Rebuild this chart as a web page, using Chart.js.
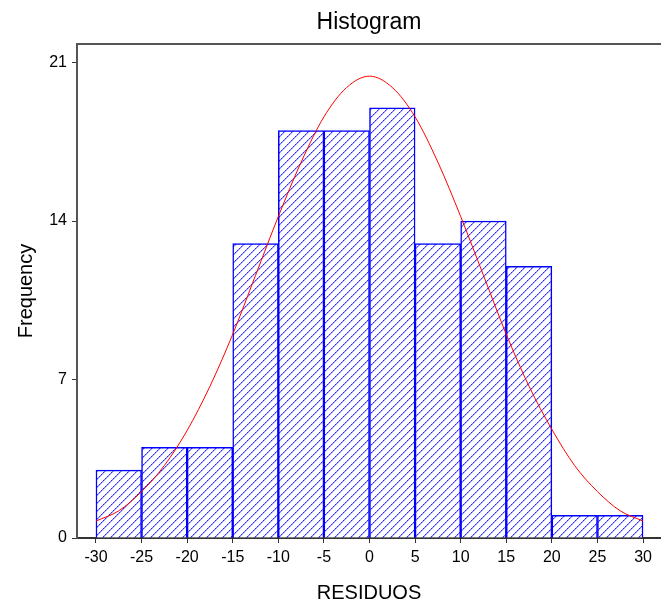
<!DOCTYPE html>
<html>
<head>
<meta charset="utf-8">
<script src="https://cdn.jsdelivr.net/npm/chart.js@4/dist/chart.umd.min.js"></script>
<style>
  html, body { margin: 0; padding: 0; background: #ffffff; }
  #c { display: block; }
</style>
</head>
<body>
<canvas id="c" width="661" height="607"></canvas>
<script>
// ---- data ----
const binStarts = [-30, -25, -20, -15, -10, -5, 0, 5, 10, 15, 20, 25];
const binWidth = 5;
const counts = [3, 4, 4, 13, 18, 18, 19, 13, 14, 12, 1, 1];

const curveX = [-30, -27.5, -25, -22.5, -20, -17.5, -15, -12.5, -10, -7.5, -5, -2.5, 0, 2.5, 5, 7.5, 10, 12.5, 15, 17.5, 20, 22.5, 25, 27.5, 30];
const curveY = [0.75, 1.2, 2.05, 3.2, 4.75, 6.7, 9.0, 11.6, 14.2, 16.6, 18.6, 19.9, 20.4, 19.9, 18.6, 16.6, 14.2, 11.6, 9.0, 6.7, 4.8, 3.2, 2.05, 1.2, 0.75];

const xTicks = [-30, -25, -20, -15, -10, -5, 0, 5, 10, 15, 20, 25, 30];
const yTicks = [0, 7, 14, 21];

const titleText = 'Histogram';
const xTitle = 'RESIDUOS';
const yTitle = 'Frequency';

const ctx = document.getElementById('c').getContext('2d');

// ---- hatch pattern: "/" stripes, 8px apart ----
function makeHatch() {
  const s = 8;
  const pc = document.createElement('canvas');
  pc.width = s; pc.height = s;
  const g = pc.getContext('2d');
  g.fillStyle = '#ffffff';
  g.fillRect(0, 0, s, s);
  for (let y = 0; y < s; y++) {
    const x0 = s - 1 - y;
    g.fillStyle = (y % 2 === 0) ? '#2a2aff' : '#7070ff';
    g.fillRect(x0, y, 1, 1);
    g.fillStyle = '#b4b4ff';
    g.fillRect((x0 + 1) % s, y, 1, 1);
  }
  return ctx.createPattern(pc, 'repeat');
}
const hatch = makeHatch();

const FONT = "'Liberation Sans', Arial, sans-serif";

const frame = {
  id: 'frame',
  afterDatasetsDraw(chart) {
    const {ctx, chartArea: a} = chart;
    ctx.save();
    ctx.strokeStyle = '#555555';
    ctx.lineWidth = 2;
    ctx.beginPath();
    ctx.moveTo(a.left - 1, a.top);
    ctx.lineTo(chart.width, a.top);
    ctx.stroke();
    ctx.restore();
  }
};

new Chart(ctx, {
  type: 'bar',
  data: {
    datasets: [
      {
        type: 'line',
        data: curveX.map((x, i) => ({x: x, y: curveY[i]})),
        borderColor: '#ff0000',
        borderWidth: 1,
        pointRadius: 0,
        fill: false,
        cubicInterpolationMode: 'monotone',
        order: 0
      },
      {
        type: 'bar',
        data: binStarts.map((s, i) => ({x: s + binWidth / 2, y: counts[i]})),
        backgroundColor: hatch,
        borderColor: '#0000ff',
        borderWidth: {left: 1.5, right: 1.5, top: 1.5, bottom: 0},
        borderSkipped: false,
        barPercentage: 1,
        categoryPercentage: 1,
        grouped: false,
        order: 1
      }
    ]
  },
  options: {
    responsive: false,
    devicePixelRatio: 1,
    animation: false,
    layout: { padding: 0 },
    plugins: {
      legend: { display: false },
      tooltip: { enabled: false },
      title: {
        display: true,
        text: titleText,
        fullSize: false,
        color: '#000000',
        font: { family: FONT, size: 23, weight: 'normal', lineHeight: 1.2 },
        padding: { top: 9, bottom: 7.4 }
      }
    },
    scales: {
      x: {
        type: 'linear',
        offset: false,
        min: -32.08,
        max: 31.97,
        afterBuildTicks: (s) => { s.ticks = xTicks.map(v => ({value: v})); },
        afterFit: (s) => { s.height = 69; s.paddingLeft = 0; s.paddingRight = 0; },
        ticks: { autoSkip: false, maxRotation: 0, color: '#000000', padding: 5, font: { family: FONT, size: 16 } },
        grid: { offset: false, drawOnChartArea: false, drawTicks: true, tickLength: 5, tickColor: '#333333', tickWidth: 1 },
        border: { display: true, color: '#333333', width: 2 },
        title: { display: true, text: xTitle, color: '#000000', font: { family: FONT, size: 20, lineHeight: 1.2 }, padding: { top: 0, bottom: 2 } }
      },
      y: {
        type: 'linear',
        min: 0,
        max: 21.82,
        afterBuildTicks: (s) => { s.ticks = yTicks.map(v => ({value: v})); },
        afterFit: (s) => { s.width = 77; s.paddingTop = 0; s.paddingBottom = 0; },
        ticks: { color: '#000000', padding: 5, font: { family: FONT, size: 16 } },
        grid: { drawOnChartArea: false, drawTicks: true, tickLength: 5, tickColor: '#333333', tickWidth: 1 },
        border: { display: true, color: '#555555', width: 2 },
        title: { display: true, text: yTitle, color: '#000000', font: { family: FONT, size: 20, lineHeight: 1.2 }, padding: { top: 14, bottom: 0 } }
      }
    }
  },
  plugins: [frame]
});
</script>
</body>
</html>
